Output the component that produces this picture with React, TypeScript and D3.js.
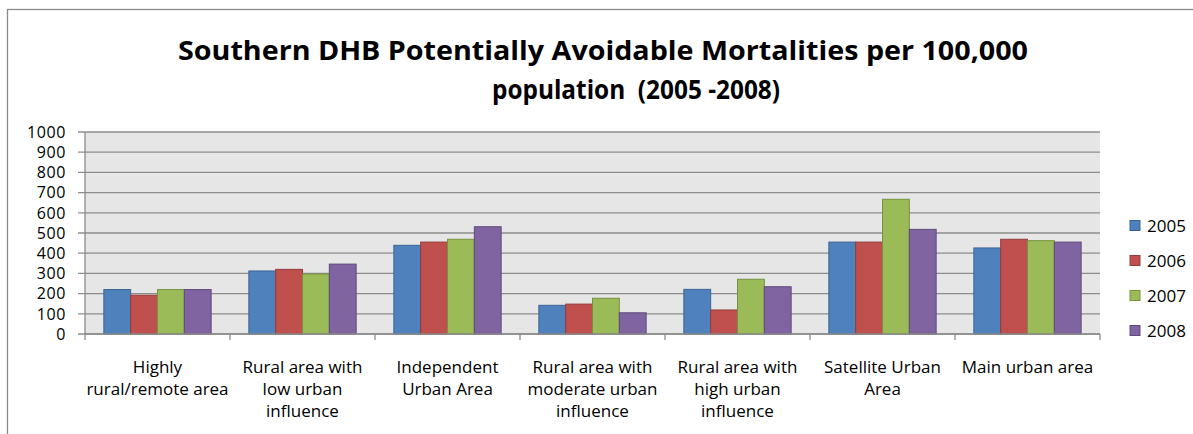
import React from "react";
import * as d3 from "d3";

const categories: string[][] = [
  ["Highly", "rural/remote area"],
  ["Rural area with", "low urban", "influence"],
  ["Independent", "Urban Area"],
  ["Rural area with", "moderate urban", "influence"],
  ["Rural area with", "high urban", "influence"],
  ["Satellite Urban", "Area"],
  ["Main urban area"],
];

const seriesNames = ["2005", "2006", "2007", "2008"];
const values2005 = [220, 312, 439, 142, 221, 455, 426];
const values2006 = [192, 320, 455, 148, 119, 455, 469];
const values2007 = [220, 297, 469, 177, 271, 667, 462];
const values2008 = [220, 346, 531, 105, 234, 518, 455];
const seriesValues = [values2005, values2006, values2007, values2008];

const yTicks = [0, 100, 200, 300, 400, 500, 600, 700, 800, 900, 1000];
const titleLines = ["Southern DHB Potentially Avoidable Mortalities per 100,000", "population  (2005 -2008)"];

const fills = ["#4F81BD", "#C0504D", "#9BBB59", "#8064A2"];
const strokes = ["#3A6496", "#943C3A", "#76913F", "#5E4A7A"];

const W = 1193;
const H = 434;
const plotLeft = 85;
const plotRight = 1100;
const plotTop = 132;
const plotBottom = 334;
const FONT = "'Open Sans', sans-serif";

export default function App() {
  const catIdx = categories.map((_, i) => i);
  const x = d3.scaleBand<number>().domain(catIdx).range([plotLeft, plotRight]).padding(0);
  const cw = x.bandwidth();
  const xs = d3
    .scaleBand<number>()
    .domain(seriesNames.map((_, i) => i))
    .range([cw * 0.13, cw * 0.87])
    .padding(0);
  const y = d3.scaleLinear().domain([0, 1000]).range([plotBottom, plotTop]);

  const boundaries = d3.range(categories.length + 1).map((i) => plotLeft + i * cw);

  return (
    <svg
      width={W}
      height={H}
      style={{ position: "absolute", left: 0, top: 0, background: "#fff" }}
      fontFamily={FONT}
    >
      <rect x={0} y={0} width={W} height={H} fill="#fff" />
      {/* outer chart border */}
      <rect x={7.5} y={9.5} width={W + 10} height={H + 10} fill="none" stroke="#8a8a8a" strokeWidth={1.3} />

      {/* title */}
      <text
        x={178}
        y={60}
        fontSize={27}
        fontWeight="bold"
        fill="#000"
        textLength={850}
        lengthAdjust="spacingAndGlyphs"
      >
        {titleLines[0]}
      </text>
      <text
        x={492}
        y={99}
        fontSize={27}
        fontWeight="bold"
        fill="#000"
        textLength={288}
        lengthAdjust="spacingAndGlyphs"
        style={{ whiteSpace: "pre" }}
      >
        {titleLines[1]}
      </text>

      {/* plot background */}
      <rect x={plotLeft} y={plotTop} width={plotRight - plotLeft} height={plotBottom - plotTop} fill="#e6e6e6" />

      {/* gridlines */}
      {yTicks.map((t) => (
        <line key={"g" + t} x1={plotLeft - 7} x2={plotRight} y1={y(t)} y2={y(t)} stroke="#8c8c8c" strokeWidth={1.3} />
      ))}

      {/* y axis */}
      <line x1={plotLeft} x2={plotLeft} y1={plotTop} y2={plotBottom} stroke="#8c8c8c" strokeWidth={1.3} />
      {yTicks.map((t) => (
        <text key={"yl" + t} x={66} y={y(t) + 5.8} fontSize={16} letterSpacing={0.6} textAnchor="end" fill="#000">
          {t}
        </text>
      ))}

      {/* bars */}
      {seriesValues.map((vals, s) =>
        vals.map((v, i) => (
          <rect
            key={`b${s}-${i}`}
            x={(x(i) as number) + (xs(s) as number)}
            y={y(v)}
            width={xs.bandwidth()}
            height={y(0) - y(v)}
            fill={fills[s]}
            stroke={strokes[s]}
            strokeWidth={1}
          />
        ))
      )}

      {/* x axis */}
      <line x1={plotLeft} x2={plotRight} y1={plotBottom} y2={plotBottom} stroke="#8c8c8c" strokeWidth={1.3} />
      {boundaries.map((b, i) => (
        <line key={"xt" + i} x1={b} x2={b} y1={plotBottom} y2={plotBottom + 6} stroke="#8c8c8c" strokeWidth={1.3} />
      ))}

      {/* category labels */}
      {categories.map((lines, i) => (
        <text key={"cl" + i} fontSize={17} textAnchor="middle" fill="#000">
          {lines.map((ln, j) => (
            <tspan key={j} x={(x(i) as number) + cw / 2} y={373 + j * 22}>
              {ln}
            </tspan>
          ))}
        </text>
      ))}

      {/* legend */}
      {seriesNames.map((n, s) => (
        <g key={"lg" + s} transform={`translate(0, ${232 + s * 35})`}>
          <rect x={1130} y={-11.5} width={10} height={10} fill={fills[s]} stroke={strokes[s]} strokeWidth={1} />
          <text x={1147} y={0} fontSize={17} fill="#000">
            {n}
          </text>
        </g>
      ))}
    </svg>
  );
}
